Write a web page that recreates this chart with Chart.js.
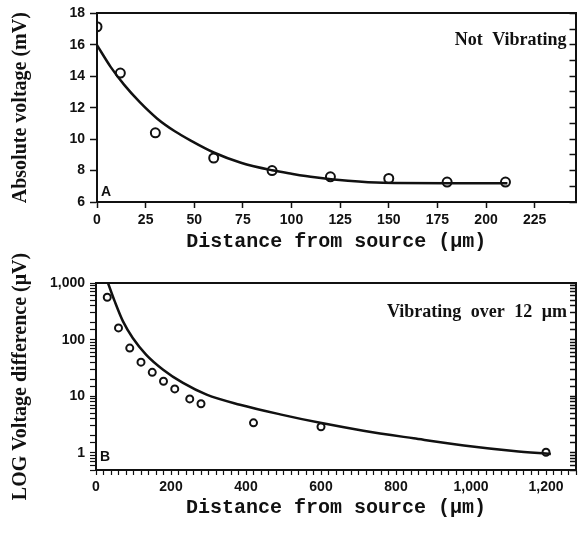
<!DOCTYPE html>
<html>
<head>
<meta charset="utf-8">
<script src="https://cdn.jsdelivr.net/npm/chart.js@4.4.0/dist/chart.umd.min.js"></script>
<style>
  html, body { margin: 0; padding: 0; background: #fff; overflow: hidden; }
  .panel { position: absolute; left: 0; width: 582px; }
  #panelA { top: 0; height: 266px; }
  #panelB { top: 236px; height: 297px; }
</style>
</head>
<body>
<div class="panel" id="panelA"><canvas id="chartA"></canvas></div>
<div class="panel" id="panelB"><canvas id="chartB"></canvas></div>
<script>
// panel A - not vibrating
var distA = [0, 12, 30, 60, 90, 120, 150, 180, 210];
var voltA = [17.15, 14.2, 10.4, 8.8, 8.0, 7.6, 7.5, 7.27, 7.27];
var fitDistA = [0, 7, 14, 22, 31, 40, 48, 60, 74, 90, 100, 112, 129, 147, 180, 211];
var fitVoltA = [15.98, 14.6, 13.45, 12.35, 11.3, 10.5, 9.92, 9.15, 8.5, 8.02, 7.8, 7.57, 7.35, 7.22, 7.2, 7.2];

// panel B - vibrating over 12 um
var distB = [30, 60, 90, 120, 150, 180, 210, 250, 280, 420, 600, 1200];
var voltB = [560, 161, 71, 40, 26.5, 18.4, 13.5, 9.0, 7.4, 3.4, 2.9, 1.03];
var fitDistB = [32, 50, 72, 98, 134, 179, 232, 295, 384, 491, 598, 713, 847, 981, 1114, 1213];
var fitVoltB = [1000, 473, 210, 107, 54, 29.5, 17.2, 10.7, 7.1, 4.8, 3.4, 2.47, 1.81, 1.35, 1.08, 0.96];

var logTicksB = [1, 10, 100, 1000];

var ink = "#111";
var tickFont = { family: "Liberation Sans", size: 14, weight: "bold" };
var titleFontX = { family: "Liberation Mono", size: 20, weight: "bold" };
var titleFontY = { family: "Liberation Serif", size: 20, weight: "bold" };

function pairs(xs, ys) {
  return xs.map(function (x, i) { return { x: x, y: ys[i] }; });
}
function fixWidth(w) { return function (scale) { scale.width = w; }; }
function fixHeight(h) { return function (scale) { scale.height = h; }; }

var panelNotes = {
  id: "panelNotes",
  afterDraw: function (chart) {
    var notes = chart.options.plugins.panelNotes;
    var area = chart.chartArea;
    var ctx = chart.ctx;
    ctx.save();
    ctx.fillStyle = ink;
    ctx.textBaseline = "middle";
    ctx.font = "bold 18px 'Liberation Serif'";
    ctx.wordSpacing = "5px";
    ctx.textAlign = "right";
    ctx.fillText(notes.title, area.right - 9, area.top + notes.titleDy);
    ctx.wordSpacing = "0px";
    ctx.font = "bold 14px 'Liberation Sans'";
    ctx.textAlign = "left";
    ctx.fillText(notes.letter, area.left + 4, area.bottom - notes.letterDy);
    ctx.restore();
  }
};

function pointSet(data, r) {
  return {
    data: data,
    showLine: false,
    pointRadius: r,
    pointBorderWidth: 2,
    pointBorderColor: ink,
    pointBackgroundColor: "rgba(0,0,0,0)"
  };
}
function lineSet(data) {
  return {
    data: data,
    showLine: true,
    borderColor: ink,
    borderWidth: 2.5,
    pointRadius: 0,
    cubicInterpolationMode: "monotone"
  };
}

function frameAxis(pos, extra) {
  var s = {
    position: pos,
    display: true,
    ticks: { display: false },
    grid: { display: pos === "right", drawOnChartArea: false, tickLength: -6, color: ink, tickWidth: 1.5 },
    border: { display: true, color: ink, width: 2 }
  };
  if (pos === "right") s.afterFit = fixWidth(0); else s.afterFit = fixHeight(0);
  return Object.assign(s, extra);
}

//chart A
new Chart(document.getElementById("chartA"), {
  type: "scatter",
  data: {
    datasets: [lineSet(pairs(fitDistA, fitVoltA)), pointSet(pairs(distA, voltA), 4.5)]
  },
  plugins: [panelNotes],
  options: {
    animation: false,
    responsive: true,
    maintainAspectRatio: false,
    layout: { padding: { top: 13, right: 0, left: 0, bottom: 0 } },
    plugins: {
      legend: { display: false },
      tooltip: { enabled: false },
      panelNotes: { title: "Not Vibrating", titleDy: 27, letter: "A", letterDy: 10 }
    },
    scales: {
      x: {
        type: "linear", position: "bottom", min: 0, max: 246,
        ticks: { stepSize: 25, includeBounds: false, autoSkip: false, maxRotation: 0, font: tickFont, color: ink, padding: 4 },
        grid: { drawOnChartArea: false, tickLength: 6, color: ink, tickWidth: 1.5 },
        border: { color: ink, width: 2 },
        title: { display: true, text: "Distance from source (\u03bcm)", font: titleFontX, color: ink, padding: { top: 0, bottom: 12 } },
        afterFit: fixHeight(64)
      },
      y: {
        type: "linear", position: "left", min: 6, max: 18,
        ticks: {
          stepSize: 1, includeBounds: false, font: tickFont, color: ink, padding: 5,
          callback: function (v) { return v % 2 === 0 ? v : ""; }
        },
        grid: { drawOnChartArea: false, tickLength: 7, color: ink, tickWidth: 1.5 },
        border: { color: ink, width: 2 },
        title: { display: true, text: "Absolute voltage (mV)", font: titleFontY, color: ink, padding: { top: 9, bottom: 0 } },
        afterFit: fixWidth(97)
      },
      yR: frameAxis("right", { type: "linear", min: 6, max: 18, ticks: { display: false, stepSize: 1 } }),
      xT: frameAxis("top", { type: "linear", min: 0, max: 246 })
    }
  }
});

//chart B
new Chart(document.getElementById("chartB"), {
  type: "scatter",
  data: {
    datasets: [lineSet(pairs(fitDistB, fitVoltB)), pointSet(pairs(distB, voltB), 3.5)]
  },
  plugins: [panelNotes],
  options: {
    animation: false,
    responsive: true,
    maintainAspectRatio: false,
    layout: { padding: { top: 47, right: 0, left: 0, bottom: 0 } },
    plugins: {
      legend: { display: false },
      tooltip: { enabled: false },
      panelNotes: { title: "Vibrating over 12 \u03bcm", titleDy: 29, letter: "B", letterDy: 13 }
    },
    scales: {
      x: {
        type: "linear", position: "bottom", min: 0, max: 1280,
        ticks: {
          stepSize: 20, includeBounds: false, autoSkip: false, maxRotation: 0, font: tickFont, color: ink, padding: 4,
          callback: function (v) { return v % 200 === 0 ? v.toLocaleString("en-US") : ""; }
        },
        grid: { drawOnChartArea: false, tickLength: 5, color: ink, tickWidth: 1.2 },
        border: { color: ink, width: 2 },
        title: { display: true, text: "Distance from source (\u03bcm)", font: titleFontX, color: ink, padding: { top: 0, bottom: 13 } },
        afterFit: fixHeight(63)
      },
      y: {
        type: "logarithmic", position: "left", min: 0.5, max: 1000,
        ticks: {
          autoSkip: false, font: tickFont, color: ink, padding: 5,
          callback: function (v) { return logTicksB.indexOf(v) >= 0 ? v.toLocaleString("en-US") : ""; }
        },
        grid: { drawOnChartArea: false, tickLength: 6, color: ink, tickWidth: 1.2 },
        border: { color: ink, width: 2 },
        title: { display: true, text: "LOG Voltage difference (\u03bcV)", font: titleFontY, color: ink, padding: { top: 9, bottom: 0 } },
        afterFit: fixWidth(96)
      },
      yR: frameAxis("right", { type: "logarithmic", min: 0.5, max: 1000 }),
      xT: frameAxis("top", { type: "linear", min: 0, max: 1280 })
    }
  }
});
</script>
</body>
</html>
